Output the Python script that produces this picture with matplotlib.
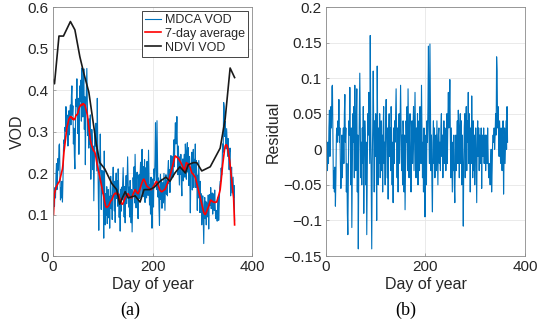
import numpy as np
import matplotlib
matplotlib.use("Agg")
import matplotlib.pyplot as plt
from matplotlib.ticker import FixedLocator

# ---------------- data ----------------
avg7 = [
    0.10, 0.13, 0.15, 0.155, 0.16, 0.165, 0.168, 0.17, 0.172, 0.175,
    0.177, 0.178, 0.18, 0.185, 0.19, 0.195, 0.20, 0.205, 0.21, 0.22,
    0.235, 0.25, 0.26, 0.27, 0.28, 0.29, 0.30, 0.31, 0.315, 0.32,
    0.325, 0.33, 0.332, 0.335, 0.334, 0.336, 0.335, 0.333, 0.33, 0.332,
    0.33, 0.328, 0.33, 0.33, 0.334, 0.338, 0.34, 0.34, 0.342, 0.345,
    0.35, 0.355, 0.358, 0.36, 0.362, 0.364, 0.365, 0.363, 0.366, 0.365,
    0.367, 0.366, 0.365, 0.364, 0.36, 0.355, 0.35, 0.345, 0.34, 0.33,
    0.32, 0.31, 0.30, 0.29, 0.28, 0.275, 0.27, 0.265, 0.262, 0.258,
    0.255, 0.253, 0.252, 0.25, 0.245, 0.24, 0.232, 0.225, 0.22, 0.214,
    0.208, 0.202, 0.196, 0.19, 0.184, 0.178, 0.172, 0.166, 0.16, 0.155,
    0.15, 0.143, 0.136, 0.13, 0.125, 0.12, 0.118, 0.117, 0.118, 0.119,
    0.12, 0.122, 0.124, 0.127, 0.13, 0.132, 0.134, 0.135, 0.138, 0.141,
    0.144, 0.147, 0.149, 0.15, 0.151, 0.152, 0.15, 0.149, 0.151, 0.15,
    0.15, 0.147, 0.143, 0.139, 0.135, 0.131, 0.128, 0.126, 0.125, 0.125,
    0.128, 0.131, 0.134, 0.137, 0.14, 0.142, 0.144, 0.146, 0.148, 0.149,
    0.15, 0.148, 0.146, 0.144, 0.142, 0.141, 0.14, 0.14, 0.143, 0.146,
    0.149, 0.152, 0.155, 0.158, 0.16, 0.158, 0.156, 0.154, 0.152, 0.151,
    0.15, 0.153, 0.156, 0.159, 0.162, 0.166, 0.17, 0.174, 0.177, 0.18,
    0.183, 0.185, 0.185, 0.182, 0.179, 0.176, 0.173, 0.17, 0.168, 0.167,
    0.166, 0.165, 0.164, 0.163, 0.162, 0.161, 0.16, 0.16, 0.162, 0.164,
    0.166, 0.168, 0.17, 0.172, 0.174, 0.176, 0.178, 0.18, 0.178, 0.175,
    0.172, 0.168, 0.165, 0.162, 0.159, 0.157, 0.156, 0.155, 0.155, 0.156,
    0.157, 0.158, 0.159, 0.16, 0.16, 0.163, 0.166, 0.169, 0.172, 0.175,
    0.178, 0.18, 0.184, 0.188, 0.193, 0.198, 0.202, 0.206, 0.21, 0.215,
    0.22, 0.225, 0.23, 0.235, 0.24, 0.241, 0.24, 0.239, 0.238, 0.237,
    0.236, 0.235, 0.233, 0.231, 0.229, 0.227, 0.225, 0.222, 0.22, 0.217,
    0.214, 0.211, 0.208, 0.205, 0.21, 0.215, 0.22, 0.225, 0.224, 0.223,
    0.222, 0.221, 0.22, 0.22, 0.216, 0.212, 0.208, 0.204, 0.20, 0.199,
    0.198, 0.197, 0.195, 0.193, 0.191, 0.19, 0.185, 0.18, 0.175, 0.17,
    0.165, 0.16, 0.155, 0.15, 0.145, 0.14, 0.135, 0.13, 0.125, 0.12,
    0.115, 0.11, 0.105, 0.103, 0.101, 0.10, 0.102, 0.105, 0.108, 0.111,
    0.114, 0.117, 0.12, 0.124, 0.128, 0.132, 0.135, 0.134, 0.133, 0.132,
    0.131, 0.13, 0.13, 0.13, 0.129, 0.129, 0.13, 0.13, 0.13, 0.134,
    0.138, 0.142, 0.146, 0.15, 0.155, 0.16, 0.17, 0.182, 0.195, 0.208,
    0.22, 0.23, 0.24, 0.25, 0.258, 0.265, 0.267, 0.268, 0.267, 0.265,
    0.26, 0.253, 0.246, 0.238, 0.23, 0.22, 0.208, 0.196, 0.184, 0.172,
    0.16, 0.15, 0.14, 0.11, 0.075,
]

residual = [
    0.012, 0.005, -0.03, 0.01, -0.02, 0.03, 0.055, -0.01, 0.02, 0.06,
    0.03, 0.088, 0.09, 0.02, -0.055, -0.03, -0.06, -0.025, -0.08, -0.04,
    0.02, 0.03, 0.01, 0.04, 0.02, 0.07, 0.01, 0.03, -0.02, -0.055,
    -0.03, 0.02, -0.04, 0.01, 0.03, -0.02, 0.05, 0.077, 0.01, 0.03,
    -0.06, -0.02, -0.09, -0.12, -0.03, 0.04, 0.02, 0.087, 0.01, -0.05,
    0.03, -0.11, -0.02, 0.05, 0.01, 0.06, -0.04, 0.09, 0.02, -0.03,
    0.04, 0.085, -0.06, 0.02, -0.14, -0.02, 0.05, 0.107, 0.03, -0.04,
    0.01, -0.05, 0.03, -0.02, 0.06, -0.09, -0.01, 0.04, 0.02, -0.05,
    0.01, -0.12, -0.03, 0.05, 0.02, 0.08, 0.03, -0.02, 0.16, 0.04,
    -0.05, -0.14, -0.02, 0.03, 0.11, 0.02, -0.06, 0.04, -0.01, 0.05,
    0.01, -0.10, 0.117, 0.02, -0.05, 0.03, -0.02, 0.05, -0.04, 0.01,
    0.04, -0.03, 0.02, -0.06, 0.03, 0.06, -0.02, 0.01, -0.05, 0.04,
    0.07, 0.01, -0.04, 0.03, -0.07, 0.02, 0.05, -0.01, 0.03, -0.03,
    0.06, 0.02, -0.05, 0.01, -0.075, 0.03, -0.02, 0.04, 0.01, 0.05,
    0.085, 0.02, -0.04, 0.03, -0.06, 0.01, 0.05, -0.02, 0.04, 0.09,
    0.03, -0.03, 0.02, -0.05, 0.04, 0.01, -0.06, 0.02, -0.085, -0.02,
    0.04, 0.01, 0.06, -0.03, 0.085, 0.02, -0.04, 0.03, 0.05, -0.02,
    -0.06, 0.01, 0.04, -0.02, 0.03, 0.06, -0.03, 0.02, 0.08, 0.01,
    -0.04, 0.03, -0.02, 0.05, -0.05, 0.02, 0.04, -0.03, 0.06, 0.01,
    -0.02, 0.09, 0.03, -0.04, 0.01, -0.06, 0.03, -0.02, -0.095, -0.03,
    0.02, -0.05, 0.04, 0.01, 0.06, 0.145, 0.03, -0.02, 0.148, 0.05,
    -0.03, 0.02, -0.05, -0.088, 0.01, 0.04, -0.02, 0.03, -0.04, 0.01,
    0.02, -0.03, 0.04, -0.01, -0.05, 0.02, 0.03, -0.02, 0.01, -0.03,
    0.03, 0.05, -0.01, 0.02, -0.04, 0.01, 0.04, -0.02, 0.03, 0.01,
    -0.03, 0.02, 0.05, -0.02, 0.04, 0.08, 0.03, 0.05, 0.098, 0.02,
    -0.04, 0.03, -0.02, -0.06, 0.01, -0.03, 0.02, -0.05, -0.075, -0.01,
    0.02, -0.03, 0.01, 0.04, -0.02, 0.055, 0.02, -0.04, 0.03, 0.05,
    -0.02, 0.04, -0.05, 0.02, -0.03, -0.108, -0.02, 0.03, 0.05, -0.04,
    0.02, 0.06, -0.03, 0.04, 0.01, 0.08, -0.02, 0.05, 0.02, -0.06,
    0.03, -0.02, 0.075, 0.01, -0.04, 0.04, -0.03, 0.02, -0.05, 0.01,
    0.03, -0.02, -0.075, 0.02, 0.04, -0.01, 0.03, -0.03, 0.02, 0.01,
    -0.02, 0.03, -0.055, 0.01, 0.02, -0.01, 0.03, -0.02, 0.01, 0.02,
    -0.03, 0.02, 0.01, -0.02, 0.03, -0.01, -0.04, -0.02, -0.03, -0.05,
    -0.02, 0.00, -0.06, -0.03, 0.01, 0.02, 0.01, 0.03, 0.00, 0.02,
    0.05, 0.02, 0.13, 0.11, 0.03, 0.06, 0.02, -0.01, 0.04, 0.01,
    -0.02, 0.03, 0.01, -0.03, 0.02, 0.04, -0.063, -0.01, 0.03, -0.02,
    0.01, 0.04, 0.0, 0.06, 0.01,
]

ndvi_days = [0, 3, 12, 17, 21, 35, 44, 54, 62, 72, 81, 87, 94, 104, 118, 128,
             134, 145, 151, 165, 175, 183, 194, 203, 215, 227, 235, 245, 255,
             266, 272, 282, 289, 299, 316, 336, 346, 356, 365]
ndvi_vod = [0.425, 0.415, 0.53, 0.53, 0.53, 0.565, 0.545, 0.48, 0.44, 0.395,
            0.32, 0.27, 0.225, 0.21, 0.175, 0.16, 0.125, 0.155, 0.14, 0.145,
            0.13, 0.16, 0.16, 0.165, 0.18, 0.19, 0.18, 0.20, 0.215, 0.20,
            0.22, 0.225, 0.225, 0.205, 0.215, 0.26, 0.33, 0.453, 0.43]

days = np.arange(1, len(avg7) + 1)
mdca = np.array(avg7) + np.array(residual)

# ---------------- style ----------------
plt.rcParams['font.family'] = ['Liberation Sans', 'DejaVu Sans']
tick_col = '#262626'
blue = '#0072BD'

fig = plt.figure(figsize=(5.37, 3.26), dpi=100)
ax1 = fig.add_axes([0.0987, 0.2147, 0.3706, 0.7638])
ax2 = fig.add_axes([0.607, 0.2147, 0.3706, 0.7638])

def style(ax):
    for s in ax.spines.values():
        s.set_color('#8a8a8a')
        s.set_linewidth(0.6)
    ax.tick_params(direction='in', length=2.5, width=0.5, colors='#8a8a8a',
                   labelcolor=tick_col, labelsize=11, pad=3)
    ax.grid(True, color='#e6e6e6', linewidth=0.6)
    ax.set_axisbelow(True)
    ax.set_xlim(0, 400)
    ax.xaxis.set_major_locator(FixedLocator([0, 200, 400]))
    ax.set_xlabel('Day of year', fontsize=11.5, color=tick_col, labelpad=2)

# Panel (a)
l1, = ax1.plot(days, mdca, color=blue, lw=0.8, label='MDCA VOD')
l2, = ax1.plot(days, avg7, color='#ff0000', lw=1.2, label='7-day average')
l3, = ax1.plot(ndvi_days, ndvi_vod, color='#1a1a1a', lw=1.2, label='NDVI VOD')
style(ax1)
ax1.set_ylim(0, 0.6)
ax1.set_yticks([0, 0.1, 0.2, 0.3, 0.4, 0.5, 0.6])
ax1.set_yticklabels(['0', '0.1', '0.2', '0.3', '0.4', '0.5', '0.6'])
ax1.set_ylabel('VOD', fontsize=11.5, color=tick_col, labelpad=2)
leg = ax1.legend(loc='upper right', fontsize=9, frameon=True, fancybox=False,
                 handlelength=1.3, handletextpad=0.3, borderpad=0.25,
                 labelspacing=0.15, borderaxespad=0.3)
leg.get_frame().set_edgecolor('#262626')
leg.get_frame().set_linewidth(0.6)
leg.get_frame().set_alpha(1)
for t in leg.get_texts():
    t.set_color(tick_col)

# Panel (b)
ax2.plot(days, residual, color=blue, lw=0.8)
style(ax2)
ax2.set_ylim(-0.15, 0.2)
rt = [-0.15, -0.1, -0.05, 0, 0.05, 0.1, 0.15, 0.2]
ax2.set_yticks(rt)
ax2.set_yticklabels(['\u22120.15', '\u22120.1', '\u22120.05', '0', '0.05', '0.1', '0.15', '0.2'])
ax2.set_ylabel('Residual', fontsize=11.5, color=tick_col, labelpad=2)

fig.text(0.2423, 0.035, '(a)', family=['Liberation Serif'], fontsize=13, ha='center', color='black')
fig.text(0.7564, 0.035, '(b)', family=['Liberation Serif'], fontsize=13, ha='center', color='black')

fig.savefig('out.png', dpi=100)
